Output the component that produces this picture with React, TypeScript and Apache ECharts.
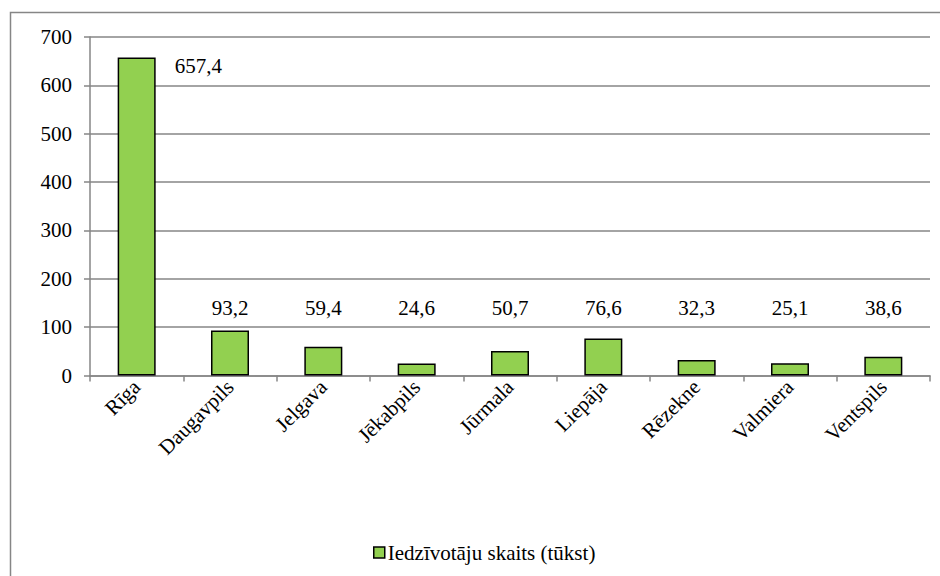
import React, { useEffect, useRef } from "react";
import * as echarts from "echarts";

const categories = ["Rīga", "Daugavpils", "Jelgava", "Jēkabpils", "Jūrmala", "Liepāja", "Rēzekne", "Valmiera", "Ventspils"];
const values = [657.4, 93.2, 59.4, 24.6, 50.7, 76.6, 32.3, 25.1, 38.6];
const seriesName = "Iedzīvotāju skaits (tūkst)";

const FONT = "Liberation Serif";

export default function App() {
  const ref = useRef<HTMLDivElement>(null);
  useEffect(() => {
    const chart = echarts.init(ref.current!, null, { renderer: "svg" });
    const fmt = (v: number) => v.toFixed(1).replace(".", ",");
    chart.setOption({
      animation: false,
      backgroundColor: "#ffffff",
      textStyle: { fontFamily: FONT, color: "#000" },
      graphic: [
        {
          type: "rect",
          shape: { x: 10.5, y: 12.5, width: 940, height: 580 },
          style: { fill: "none", stroke: "#868686", lineWidth: 1.5 },
          silent: true,
        },
      ],
      grid: { left: 90, right: 10, top: 37, height: 338.5, containLabel: false },
      legend: {
        data: [seriesName],
        top: 537,
        left: 368,
        icon: "rect",
        itemWidth: 11,
        itemHeight: 11,
        itemGap: 4,
        textStyle: { fontFamily: FONT, fontSize: 21, color: "#000", padding: [0, 0, 0, -2] },
        itemStyle: { borderColor: "#000", borderWidth: 1.5 },
      },
      xAxis: {
        type: "category",
        data: categories,
        boundaryGap: true,
        axisLine: { lineStyle: { color: "#868686", width: 1.5 } },
        axisTick: { show: true, length: 6, lineStyle: { color: "#868686", width: 1.5 } },
        axisLabel: { rotate: 45, fontFamily: FONT, fontSize: 21, color: "#000", margin: 8 },
      },
      yAxis: {
        type: "value",
        min: 0,
        max: 700,
        interval: 100,
        axisLine: { show: true, lineStyle: { color: "#868686", width: 1.5 } },
        axisTick: { show: true, length: 6, lineStyle: { color: "#868686", width: 1.5 } },
        splitLine: { lineStyle: { color: "#868686", width: 1.5 } },
        axisLabel: { fontFamily: FONT, fontSize: 21, color: "#000", margin: 18 },
      },
      series: [
        {
          name: seriesName,
          type: "bar",
          barWidth: 38,
          itemStyle: { color: "#92D050", borderColor: "#000", borderWidth: 1.5 },
          data: values.map((v, i) =>
            i === 0
              ? { value: v, label: { position: [57, -2], align: "left", verticalAlign: "top" } }
              : v
          ),
          label: {
            show: true,
            position: "insideBottom",
            distance: 57,
            fontFamily: FONT,
            fontSize: 21,
            color: "#000",
            formatter: (p: any) => fmt(p.value),
          },
        },
      ],
    });
    return () => chart.dispose();
  }, []);
  return <div ref={ref} style={{ position: "fixed", left: 0, top: 0, width: 940, height: 576 }} />;
}
